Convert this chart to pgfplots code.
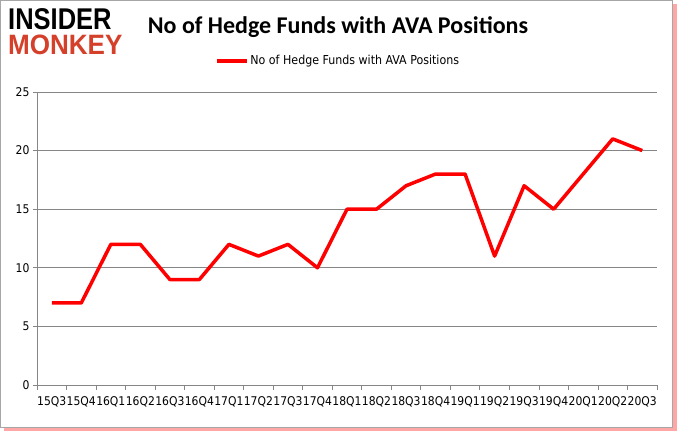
\documentclass[border=0pt]{standalone}
\usepackage{fontspec}
\setmainfont{Carlito}
\newfontfamily\logofont{Liberation Sans}
\newfontfamily\tickfont{DejaVu Sans Condensed}
\usepackage{pgfplots}
\pgfplotsset{compat=1.18}
\definecolor{gridgray}{RGB}{134,134,134}
\definecolor{logored}{RGB}{213,64,43}
\begin{document}
\begin{tikzpicture}[x=1pt,y=1pt]
% frame and shadow
\fill[red!35] (4pt,0pt) rectangle (677pt,427pt);
\fill[white] (0pt,3pt) rectangle (673pt,431pt);
\draw[gray!70, line width=0.8pt] (0.4pt,3.4pt) rectangle (672.6pt,430.6pt);
% logo
\node[anchor=west, font=\logofont\bfseries\fontsize{30}{30}\selectfont, xscale=0.85, inner sep=0] at (8pt,412pt) {INSIDER};
\node[anchor=west, font=\logofont\bfseries\fontsize{28}{28}\selectfont, xscale=0.93, inner sep=0, text=logored] at (8pt,386pt) {MONKEY};
% title
\node[font=\bfseries\fontsize{24}{26}\selectfont] at (338pt,404pt) {No of Hedge Funds with AVA Positions};
\begin{axis}[
  at={(37pt,46pt)}, anchor=south west,
  scale only axis, width=620pt, height=293pt,
  xmin=-0.5, xmax=20.5, ymin=0, ymax=25,
  ytick={0,5,...,25},
  xtick={0,...,20},
  xticklabels={15Q3,15Q4,16Q1,16Q2,16Q3,16Q4,17Q1,17Q2,17Q3,17Q4,18Q1,18Q2,18Q3,18Q4,19Q1,19Q2,19Q3,19Q4,20Q1,20Q2,20Q3},
  minor xtick={-0.5,0.5,...,20.5},
  major x tick style={draw=none},
  tick align=outside,
  major tick length=4pt, minor tick length=5pt,
  tick style={gridgray, line width=0.8pt},
  ymajorgrids=true,
  grid style={gridgray, line width=0.8pt},
  axis x line*=bottom, axis y line*=left,
  axis line style={gridgray, line width=0.8pt, -},
  ticklabel style={font=\tickfont\fontsize{12}{13}\selectfont},
  xticklabel style={inner xsep=0pt, yshift=-4pt},
  /pgf/number format/assume math mode=true,
  clip=false,
  legend style={at={(0.4855,1.106)}, anchor=center, draw=none, fill=none,
    font=\tickfont\fontsize{12.3}{13}\selectfont, legend columns=1,
    nodes={inner xsep=2pt}},
  legend image code/.code={\draw[red, line width=3.5pt] (0pt,0pt) -- (30pt,0pt);},
]
\addplot[red, line width=3.5pt, line join=round] coordinates {
  (0,7)(1,7)(2,12)(3,12)(4,9)(5,9)(6,12)(7,11)(8,12)(9,10)(10,15)
  (11,15)(12,17)(13,18)(14,18)(15,11)(16,17)(17,15)(18,18)(19,21)(20,20)
};
\addlegendentry{No of Hedge Funds with AVA Positions}
\end{axis}
\end{tikzpicture}
\end{document}
